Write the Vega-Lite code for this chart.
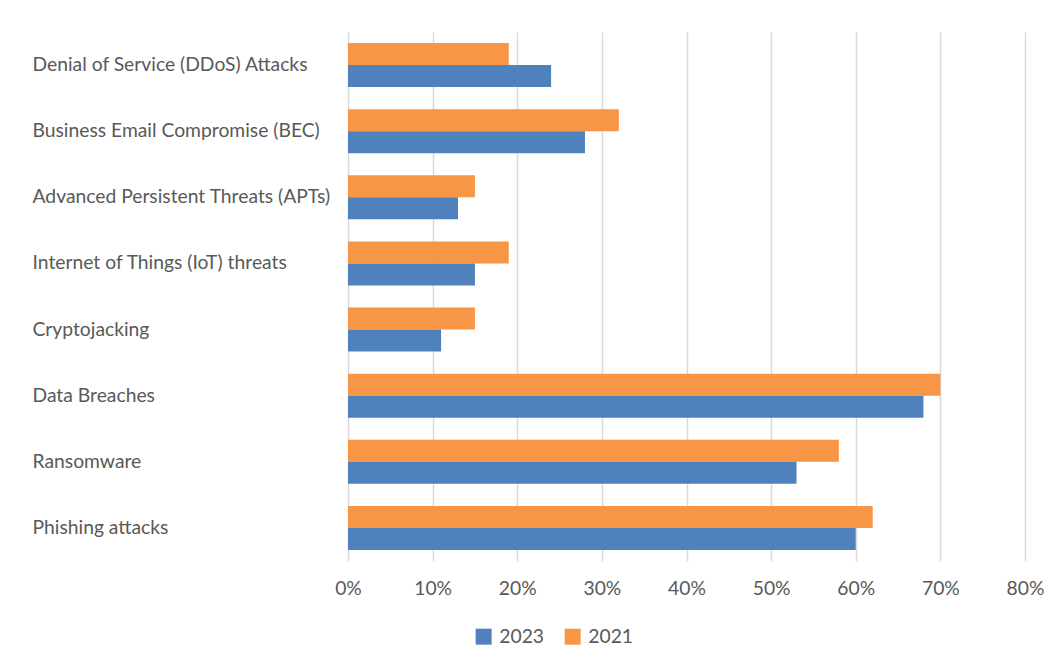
{
  "$schema": "https://vega.github.io/schema/vega-lite/v6.json",
  "autosize": "none",
  "width": 677,
  "height": 529,
  "padding": {"left": 348, "top": 32, "right": 32, "bottom": 107},
  "background": "white",
  "data": {
    "values": [
      {"threat": "Denial of Service (DDoS) Attacks", "year": "2021", "share": 0.19},
      {"threat": "Denial of Service (DDoS) Attacks", "year": "2023", "share": 0.24},
      {"threat": "Business Email Compromise (BEC)", "year": "2021", "share": 0.32},
      {"threat": "Business Email Compromise (BEC)", "year": "2023", "share": 0.28},
      {"threat": "Advanced Persistent Threats (APTs)", "year": "2021", "share": 0.15},
      {"threat": "Advanced Persistent Threats (APTs)", "year": "2023", "share": 0.13},
      {"threat": "Internet of Things (IoT) threats", "year": "2021", "share": 0.19},
      {"threat": "Internet of Things (IoT) threats", "year": "2023", "share": 0.15},
      {"threat": "Cryptojacking", "year": "2021", "share": 0.15},
      {"threat": "Cryptojacking", "year": "2023", "share": 0.11},
      {"threat": "Data Breaches", "year": "2021", "share": 0.70},
      {"threat": "Data Breaches", "year": "2023", "share": 0.68},
      {"threat": "Ransomware", "year": "2021", "share": 0.58},
      {"threat": "Ransomware", "year": "2023", "share": 0.53},
      {"threat": "Phishing attacks", "year": "2021", "share": 0.62},
      {"threat": "Phishing attacks", "year": "2023", "share": 0.60}
    ]
  },
  "mark": {"type": "bar"},
  "encoding": {
    "y": {
      "field": "threat",
      "type": "nominal",
      "sort": null,
      "title": null,
      "scale": {"paddingInner": 0.3333, "paddingOuter": 0.1667},
      "axis": {
        "domain": false,
        "ticks": false,
        "labelAlign": "left",
        "labelPadding": 316,
        "labelLimit": 400,
        "labelFont": "Lato",
        "labelFontSize": 19.3,
        "labelColor": "#595959"
      }
    },
    "yOffset": {
      "field": "year",
      "type": "nominal",
      "sort": ["2021", "2023"]
    },
    "x": {
      "field": "share",
      "type": "quantitative",
      "title": null,
      "scale": {"domain": [0, 0.8], "nice": false},
      "axis": {
        "format": "%",
        "values": [0, 0.1, 0.2, 0.3, 0.4, 0.5, 0.6, 0.7, 0.8],
        "domain": false,
        "ticks": false,
        "labelFlush": false,
        "labelPadding": 18,
        "labelFont": "Lato",
        "labelFontSize": 19.3,
        "labelColor": "#595959",
        "grid": true,
        "gridColor": "#D9D9D9",
        "gridWidth": 1.5
      }
    },
    "color": {
      "field": "year",
      "type": "nominal",
      "scale": {"domain": ["2023", "2021"], "range": ["#4F81BD", "#F79646"]},
      "legend": {
        "title": null,
        "orient": "none",
        "legendX": 126,
        "legendY": 595,
        "direction": "horizontal",
        "symbolType": "square",
        "symbolSize": 256,
        "symbolStrokeWidth": 0,
        "labelFont": "Lato",
        "labelFontSize": 19.3,
        "labelColor": "#595959",
        "labelOffset": 6,
        "columnPadding": 18
      }
    }
  },
  "config": {
    "view": {"stroke": null}
  }
}
